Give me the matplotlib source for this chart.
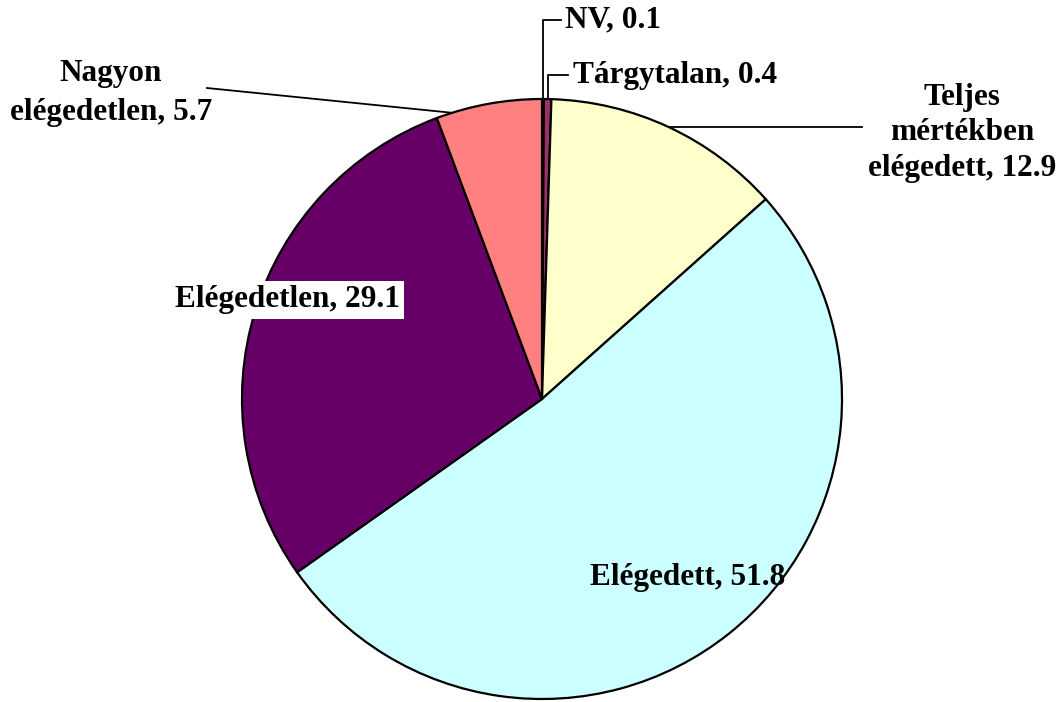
import matplotlib.pyplot as plt
import numpy as np

# adatok (óramutató járásával, 12 órától)
names = ['NV', 'Tárgytalan', 'Teljes\nmértékben\nelégedett', 'Elégedett',
         'Elégedetlen', 'Nagyon\nelégedetlen']
values = [0.1, 0.4, 12.9, 51.8, 29.1, 5.7]
colors = ['#9999FF', '#993366', '#FFFFCC', '#CCFFFF', '#660066', '#FF8080']

W, H = 1060, 702
fig = plt.figure(figsize=(W / 100, H / 100), dpi=100)
ax = fig.add_axes([0, 0, 1, 1])

cx, cy, r = 542, H - 399, 300
ax.pie(values, colors=colors, startangle=90, counterclock=False,
       center=(cx, cy), radius=r, frame=False,
       wedgeprops=dict(edgecolor='black', linewidth=1.6))
ax.set_xlim(0, W)
ax.set_ylim(0, H)
ax.set_aspect('equal')
ax.axis('off')

cum = np.concatenate([[0], np.cumsum(values)])


def edge_point(i, frac=0.5):
    # pont a körön az i. szelet adott részénél
    p = cum[i] + frac * values[i]
    th = np.radians(90 - 3.6 * p)
    return cx + r * np.cos(th), cy + r * np.sin(th)


font = dict(family='Liberation Serif', fontweight='bold', fontsize=22.5)
lw = 1.3


def Y(y):
    return H - y


texts = [f'{n}, {v}' for n, v in zip(names, values)]

# NV
px, py = edge_point(0)
ax.plot([px, px, 561], [py, Y(20), Y(20)], color='black', lw=lw)
ax.text(565, Y(20), texts[0], ha='left', va='center', **font)

# Tárgytalan
px, py = edge_point(1)
ax.plot([px, px, 568], [py, Y(75), Y(75)], color='black', lw=lw)
ax.text(573, Y(75), texts[1], ha='left', va='center', **font)

# Teljes mértékben elégedett
px, py = edge_point(2)
ax.plot([px, 862], [py, py], color='black', lw=lw)
ax.text(962, Y(133), texts[2], ha='center', va='center',
        multialignment='center', linespacing=1.28, **font)

# Elégedett
ax.text(688, Y(578), texts[3], ha='center', va='center', **font)

# Elégedetlen
ax.text(287, Y(300), texts[4], ha='center', va='center',
        bbox=dict(facecolor='white', edgecolor='none', pad=3), **font)

# Nagyon elégedetlen
px, py = edge_point(5, 0.15)
ax.plot([207, px], [Y(88), py], color='black', lw=lw)
ax.text(111, Y(93), texts[5], ha='center', va='center',
        multialignment='center', linespacing=1.42, **font)

plt.savefig('out.png', dpi=100)
